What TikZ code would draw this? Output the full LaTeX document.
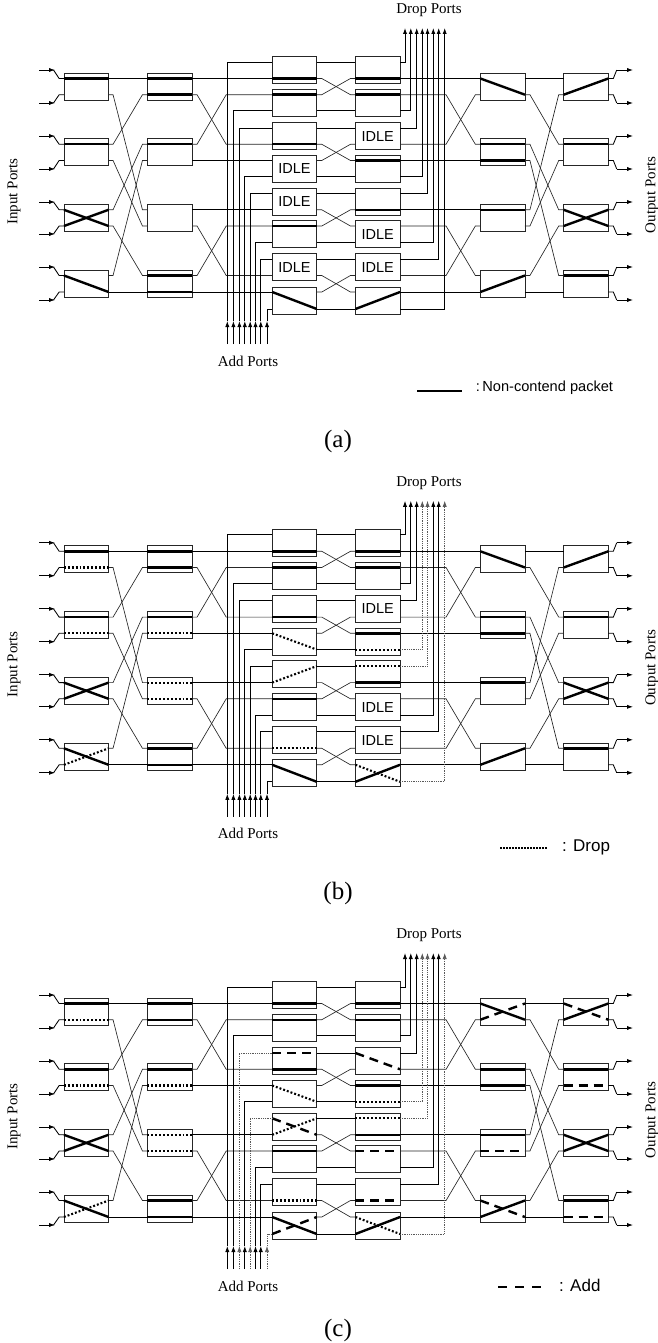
\documentclass[tikz,border=0pt]{standalone}
\usepackage{fontspec}
\setmainfont{Liberation Serif}
\newfontfamily\helv{Liberation Sans}
\usetikzlibrary{arrows.meta}
\tikzset{
  swb/.style={draw=black!85,line width=.85pt,rectangle,minimum width=44.6pt,minimum height=27pt,inner sep=0pt},
  wire/.style={draw=black,line width=.85pt},
  xwire/.style={draw=black!85,line width=.65pt},
  gwire/.style={draw=black!65,line width=.65pt,dash pattern=on 1pt off .8pt},
  tipped/.style={-{Latex[length=6pt,width=4.2pt]}},
  pkt/.style={draw=black,line width=2.4pt},
  drp/.style={draw=black,line width=2.1pt,dash pattern=on 1.9pt off 2pt},
  adp/.style={draw=black,line width=2.4pt,dash pattern=on 9pt off 6pt},
  idle/.style={font=\helv\fontsize{14.5}{14.5}\selectfont,inner sep=0pt},
  ptxt/.style={font=\fontsize{15}{15}\selectfont,inner sep=0pt},
  captxt/.style={font=\fontsize{25}{25}\selectfont,inner sep=0pt},
  legtxt/.style={font=\helv\fontsize{#1}{#1}\selectfont,inner sep=0pt,anchor=west},
}
% one switch box: prefix-stage-box, centre x, upper and lower port y
\newcommand\swbox[4]{%
  \node[swb] (#1) at (#2,{(#3+#4)/2}) {};
  \coordinate (#1-lt) at ({#2-22.3},#3);
  \coordinate (#1-lb) at ({#2-22.3},#4);
  \coordinate (#1-rt) at ({#2+22.3},#3);
  \coordinate (#1-rb) at ({#2+22.3},#4);
}
% state lines inside the boxes
\newcommand\states[2]{%
  \foreach \n/\u/\v/\st in {#2}{\draw[\st] (#1-\n-l\u) -- (#1-\n-r\v);}%
}
\newcommand\idlebox[1]{\node[idle] (#1-txt) at (#1) {IDLE};}
% add / drop wires
\newcommand\addwires[2]{%
  \foreach \n/\st in {#2}{%
    \draw[\st,tipped] (#1-add\n-tail) -- (#1-add\n-tip);
    \draw[\st] (#1-add\n-tip) |- (#1-add\n-port);
  }%
}
\newcommand\dropwires[2]{%
  \foreach \n/\st in {#2}{\draw[\st,tipped] (#1-drop\n-port) -| (#1-drop\n-tip);}%
}
% common skeleton of one panel
\newcommand\panel[2]{%
\begin{scope}[shift={(0,#2)}]
  \foreach \s/\cx in {1/86.25,2/169.75,5/502.65,6/586}{
    \foreach \b/\yt/\yb in {1/78.5/94.7,2/144.3/160.5,3/209.8/226,4/275.5/292}{
      \swbox{#1-\s-\b}{\cx}{\yt}{\yb}
    }
  }
  \foreach \s/\cx in {3/294.5,4/377.75}{
    \foreach \b/\yt/\yb in {1/62/78.5,2/94.7/110.8,3/128/144.3,4/160.5/176.8,5/193.3/209.8,6/226/242.5,7/259/275.5,8/292/309}{
      \swbox{#1-\s-\b}{\cx}{\yt}{\yb}
    }
  }
  % straight links
  \foreach \A/\B in {1-1-rt/2-1-lt,1-4-rb/2-4-lb,
     2-1-rt/3-1-lb,2-2-rb/3-4-lt,2-3-rt/3-5-lb,2-4-rb/3-8-lt,
     3-1-rt/4-1-lt,3-2-rb/4-2-lb,3-3-rt/4-3-lt,3-4-rb/4-4-lb,3-5-rt/4-5-lt,3-6-rb/4-6-lb,3-7-rt/4-7-lt,3-8-rb/4-8-lb,
     4-1-rb/5-1-lt,4-4-rt/5-2-lb,4-5-rb/5-3-lt,4-8-rt/5-4-lb,
     5-1-rt/6-1-lt,5-4-rb/6-4-lb}{
    \draw[wire] (#1-\A) -- (#1-\B);
  }
  % crossing links
  \foreach \A/\B/\sa/\ea in {1-1-rb/2-3-lt/4.5/5,1-2-rt/2-1-lb/4.5/5,1-2-rb/2-3-lb/4.5/5,1-3-rt/2-2-lt/4.5/5,1-3-rb/2-4-lt/4.5/5,1-4-rt/2-2-lb/4.5/5,
     2-1-rb/3-3-lb/5/46,2-2-rt/3-2-lt/5/46,2-3-rb/3-7-lb/5/46,2-4-rt/3-6-lt/5/46,
     3-1-rb/4-2-lt/5/5,3-2-rt/4-1-lb/5/5,3-3-rb/4-4-lt/5/5,3-4-rt/4-3-lb/5/5,3-5-rb/4-6-lt/5/5,3-6-rt/4-5-lb/5/5,3-7-rb/4-8-lt/5/5,3-8-rt/4-7-lb/5/5,
     4-2-rt/5-2-lt/46/5,4-3-rb/5-1-lb/46/5,4-6-rt/5-4-lt/46/5,4-7-rb/5-3-lb/46/5,
     5-1-rb/6-2-lt/5/5,5-2-rt/6-3-lt/5/5,5-2-rb/6-4-lt/5/5,5-3-rt/6-1-lb/5/5,5-3-rb/6-2-lb/5/5,5-4-rt/6-3-lb/5/5}{
    \draw[xwire] (#1-\A) -- ++(\sa,0) -- ([xshift=-\ea pt]#1-\B) -- (#1-\B);
  }
  % input and output ports
  \foreach \b/\c/\y/\p in {1/1/70/lt,1/2/103/lb,2/1/136/lt,2/2/169/lb,3/1/202/lt,3/2/234/lb,4/1/267/lt,4/2/300/lb}{
    \coordinate (#1-in\b\c-a) at (39,\y);
    \coordinate (#1-in\b\c-b) at (55,\y);
    \coordinate (#1-in\b\c-c) at (53.5,\y);
    \draw[wire,tipped] (#1-in\b\c-a) -- (#1-in\b\c-b);
    \draw[wire] (#1-in\b\c-c) -- ([xshift=-4.8pt]#1-1-\b-\p) -- (#1-1-\b-\p);
  }
  \foreach \b/\c/\y/\p in {1/1/70/rt,1/2/103/rb,2/1/136/rt,2/2/169/rb,3/1/202/rt,3/2/234/rb,4/1/267/rt,4/2/300/rb}{
    \coordinate (#1-out\b\c-a) at (616.7,\y);
    \coordinate (#1-out\b\c-b) at (633,\y);
    \draw[wire] (#1-6-\b-\p) -- ++(5,0) -- (#1-out\b\c-a);
    \draw[wire,tipped] (#1-out\b\c-a) -- (#1-out\b\c-b);
  }
  % add and drop wire ends
  \foreach \n/\x/\p in {1/227.3/lt,2/233.4/lb,3/239.4/lt,4/244.8/lb,5/250.2/lt,6/255.5/lb,7/260.8/lt,8/267/lb}{
    \coordinate (#1-add\n-tail) at (\x,344);
    \coordinate (#1-add\n-tip) at (\x,321);
    \coordinate (#1-add\n-port) at (#1-3-\n-\p);
  }
  \foreach \n/\x/\p in {1/405/rt,2/410.8/rb,3/416.7/rt,4/422.3/rb,5/427.5/rt,6/433.3/rb,7/438.7/rt,8/444.7/rb}{
    \coordinate (#1-drop\n-tip) at (\x,28);
    \coordinate (#1-drop\n-port) at (#1-4-\n-\p);
  }
  % labels
  \node[ptxt] (#1-addlabel) at (248,361) {Add Ports};
  \node[ptxt] (#1-droplabel) at (429,10.5) {Drop Ports};
  \node[ptxt,rotate=90] (#1-inlabel) at (14,191.5) {Input Ports};
  \node[ptxt,rotate=90] (#1-outlabel) at (652,195) {Output Ports};
\end{scope}
}
\begin{document}
\begin{tikzpicture}[x=1pt,y=-1pt]
\useasboundingbox[fill=white] (0,0) rectangle (658,1343);

% ---------- panel (a)
\panel{a}{0}
\states{a}{1-1/t/t/pkt,1-2/t/t/pkt,1-3/t/b/pkt,1-3/b/t/pkt,1-4/t/b/pkt,
  2-1/t/t/pkt,2-1/b/b/pkt,2-2/t/t/pkt,2-4/t/t/pkt,2-4/b/b/pkt,
  3-1/b/b/pkt,3-2/t/t/pkt,3-3/b/b/pkt,3-6/t/t/pkt,3-8/t/b/pkt,
  4-1/b/b/pkt,4-2/t/t/pkt,4-4/t/t/pkt,4-5/b/b/pkt,4-8/b/t/pkt,
  5-1/t/b/pkt,5-2/t/t/pkt,5-2/b/b/pkt,5-3/t/t/pkt,5-4/b/t/pkt,
  6-1/b/t/pkt,6-2/t/t/pkt,6-3/t/b/pkt,6-3/b/t/pkt,6-4/t/t/pkt}
\idlebox{a-3-4}\idlebox{a-3-5}\idlebox{a-3-7}
\idlebox{a-4-3}\idlebox{a-4-6}\idlebox{a-4-7}
\addwires{a}{1/wire,2/wire,3/wire,4/wire,5/wire,6/wire,7/wire,8/wire}
\dropwires{a}{1/wire,2/wire,3/wire,4/wire,5/wire,6/wire,7/wire,8/wire}
\coordinate (leg-a1) at (417,390.7);
\coordinate (leg-a2) at (462,390.7);
\draw[draw=black,line width=1.8pt] (leg-a1) -- (leg-a2);
\node[legtxt=14.6] (leg-at) at (475.7,388) {:\,Non-contend packet};
\node[captxt] (cap-a) at (338,441.7) {(a)};

% ---------- panel (b)
\panel{b}{472.8}
\states{b}{1-1/t/t/pkt,1-1/b/b/drp,1-2/t/t/pkt,1-2/b/b/drp,1-3/t/b/pkt,1-3/b/t/pkt,1-4/t/b/pkt,1-4/b/t/drp,
  2-1/t/t/pkt,2-1/b/b/pkt,2-2/t/t/pkt,2-2/b/b/drp,2-3/t/t/drp,2-3/b/b/drp,2-4/t/t/pkt,2-4/b/b/pkt,
  3-1/b/b/pkt,3-2/t/t/pkt,3-3/b/b/pkt,3-4/t/b/drp,3-5/b/t/drp,3-6/t/t/pkt,3-7/b/b/drp,3-8/t/b/pkt,
  4-1/b/b/pkt,4-2/t/t/pkt,4-4/t/t/pkt,4-4/b/b/drp,4-5/t/t/drp,4-5/b/b/pkt,4-8/b/t/pkt,4-8/t/b/drp,
  5-1/t/b/pkt,5-2/t/t/pkt,5-2/b/b/pkt,5-3/t/t/pkt,5-4/b/t/pkt,
  6-1/b/t/pkt,6-2/t/t/pkt,6-3/t/b/pkt,6-3/b/t/pkt,6-4/t/t/pkt}
\idlebox{b-4-3}\idlebox{b-4-6}\idlebox{b-4-7}
\addwires{b}{1/wire,2/wire,3/wire,4/wire,5/wire,6/wire,7/wire,8/wire}
\dropwires{b}{1/wire,2/wire,3/wire,4/gwire,5/gwire,6/wire,7/wire,8/gwire}
\coordinate (leg-b1) at (500,848.3);
\coordinate (leg-b2) at (547,848.3);
\draw[draw=black,line width=1.8pt,dash pattern=on 1.5pt off 1.5pt] (leg-b1) -- (leg-b2);
\node[legtxt=17] (leg-bt) at (562,847.7) {: Drop};
\node[captxt] (cap-b) at (338,893) {(b)};

% ---------- panel (c)
\panel{c}{925}
\states{c}{1-1/t/t/pkt,1-1/b/b/drp,1-2/t/t/pkt,1-2/b/b/drp,1-3/t/b/pkt,1-3/b/t/pkt,1-4/t/b/pkt,1-4/b/t/drp,
  2-1/t/t/pkt,2-1/b/b/pkt,2-2/t/t/pkt,2-2/b/b/drp,2-3/t/t/drp,2-3/b/b/drp,2-4/t/t/pkt,2-4/b/b/pkt,
  3-1/b/b/pkt,3-2/t/t/pkt,3-3/t/t/adp,3-3/b/b/pkt,3-4/t/b/drp,3-5/b/t/drp,3-5/t/b/adp,3-6/t/t/pkt,3-7/b/b/drp,3-8/t/b/pkt,3-8/b/t/adp,
  4-1/b/b/pkt,4-2/t/t/pkt,4-3/t/b/adp,4-4/t/t/pkt,4-4/b/b/drp,4-5/t/t/drp,4-5/b/b/pkt,4-6/t/t/adp,4-7/b/b/adp,4-8/b/t/pkt,4-8/t/b/drp,
  5-1/t/b/pkt,5-1/b/t/adp,5-2/t/t/pkt,5-2/b/b/pkt,5-3/t/t/pkt,5-3/b/b/adp,5-4/b/t/pkt,5-4/t/b/adp,
  6-1/b/t/pkt,6-1/t/b/adp,6-2/t/t/pkt,6-2/b/b/adp,6-3/t/b/pkt,6-3/b/t/pkt,6-4/t/t/pkt,6-4/b/b/adp}
\addwires{c}{1/wire,2/wire,3/gwire,4/wire,5/gwire,6/wire,7/wire,8/gwire}
\dropwires{c}{1/wire,2/wire,3/wire,4/gwire,5/gwire,6/wire,7/wire,8/gwire}
\coordinate (leg-c1) at (498,1287.3);
\coordinate (leg-c2) at (541,1287.3);
\draw[draw=black,line width=1.8pt,dash pattern=on 9pt off 8pt] (leg-c1) -- (leg-c2);
\node[legtxt=17] (leg-ct) at (559,1285) {: Add};
\node[captxt] (cap-c) at (338,1330.5) {(c)};
\end{tikzpicture}
\end{document}
